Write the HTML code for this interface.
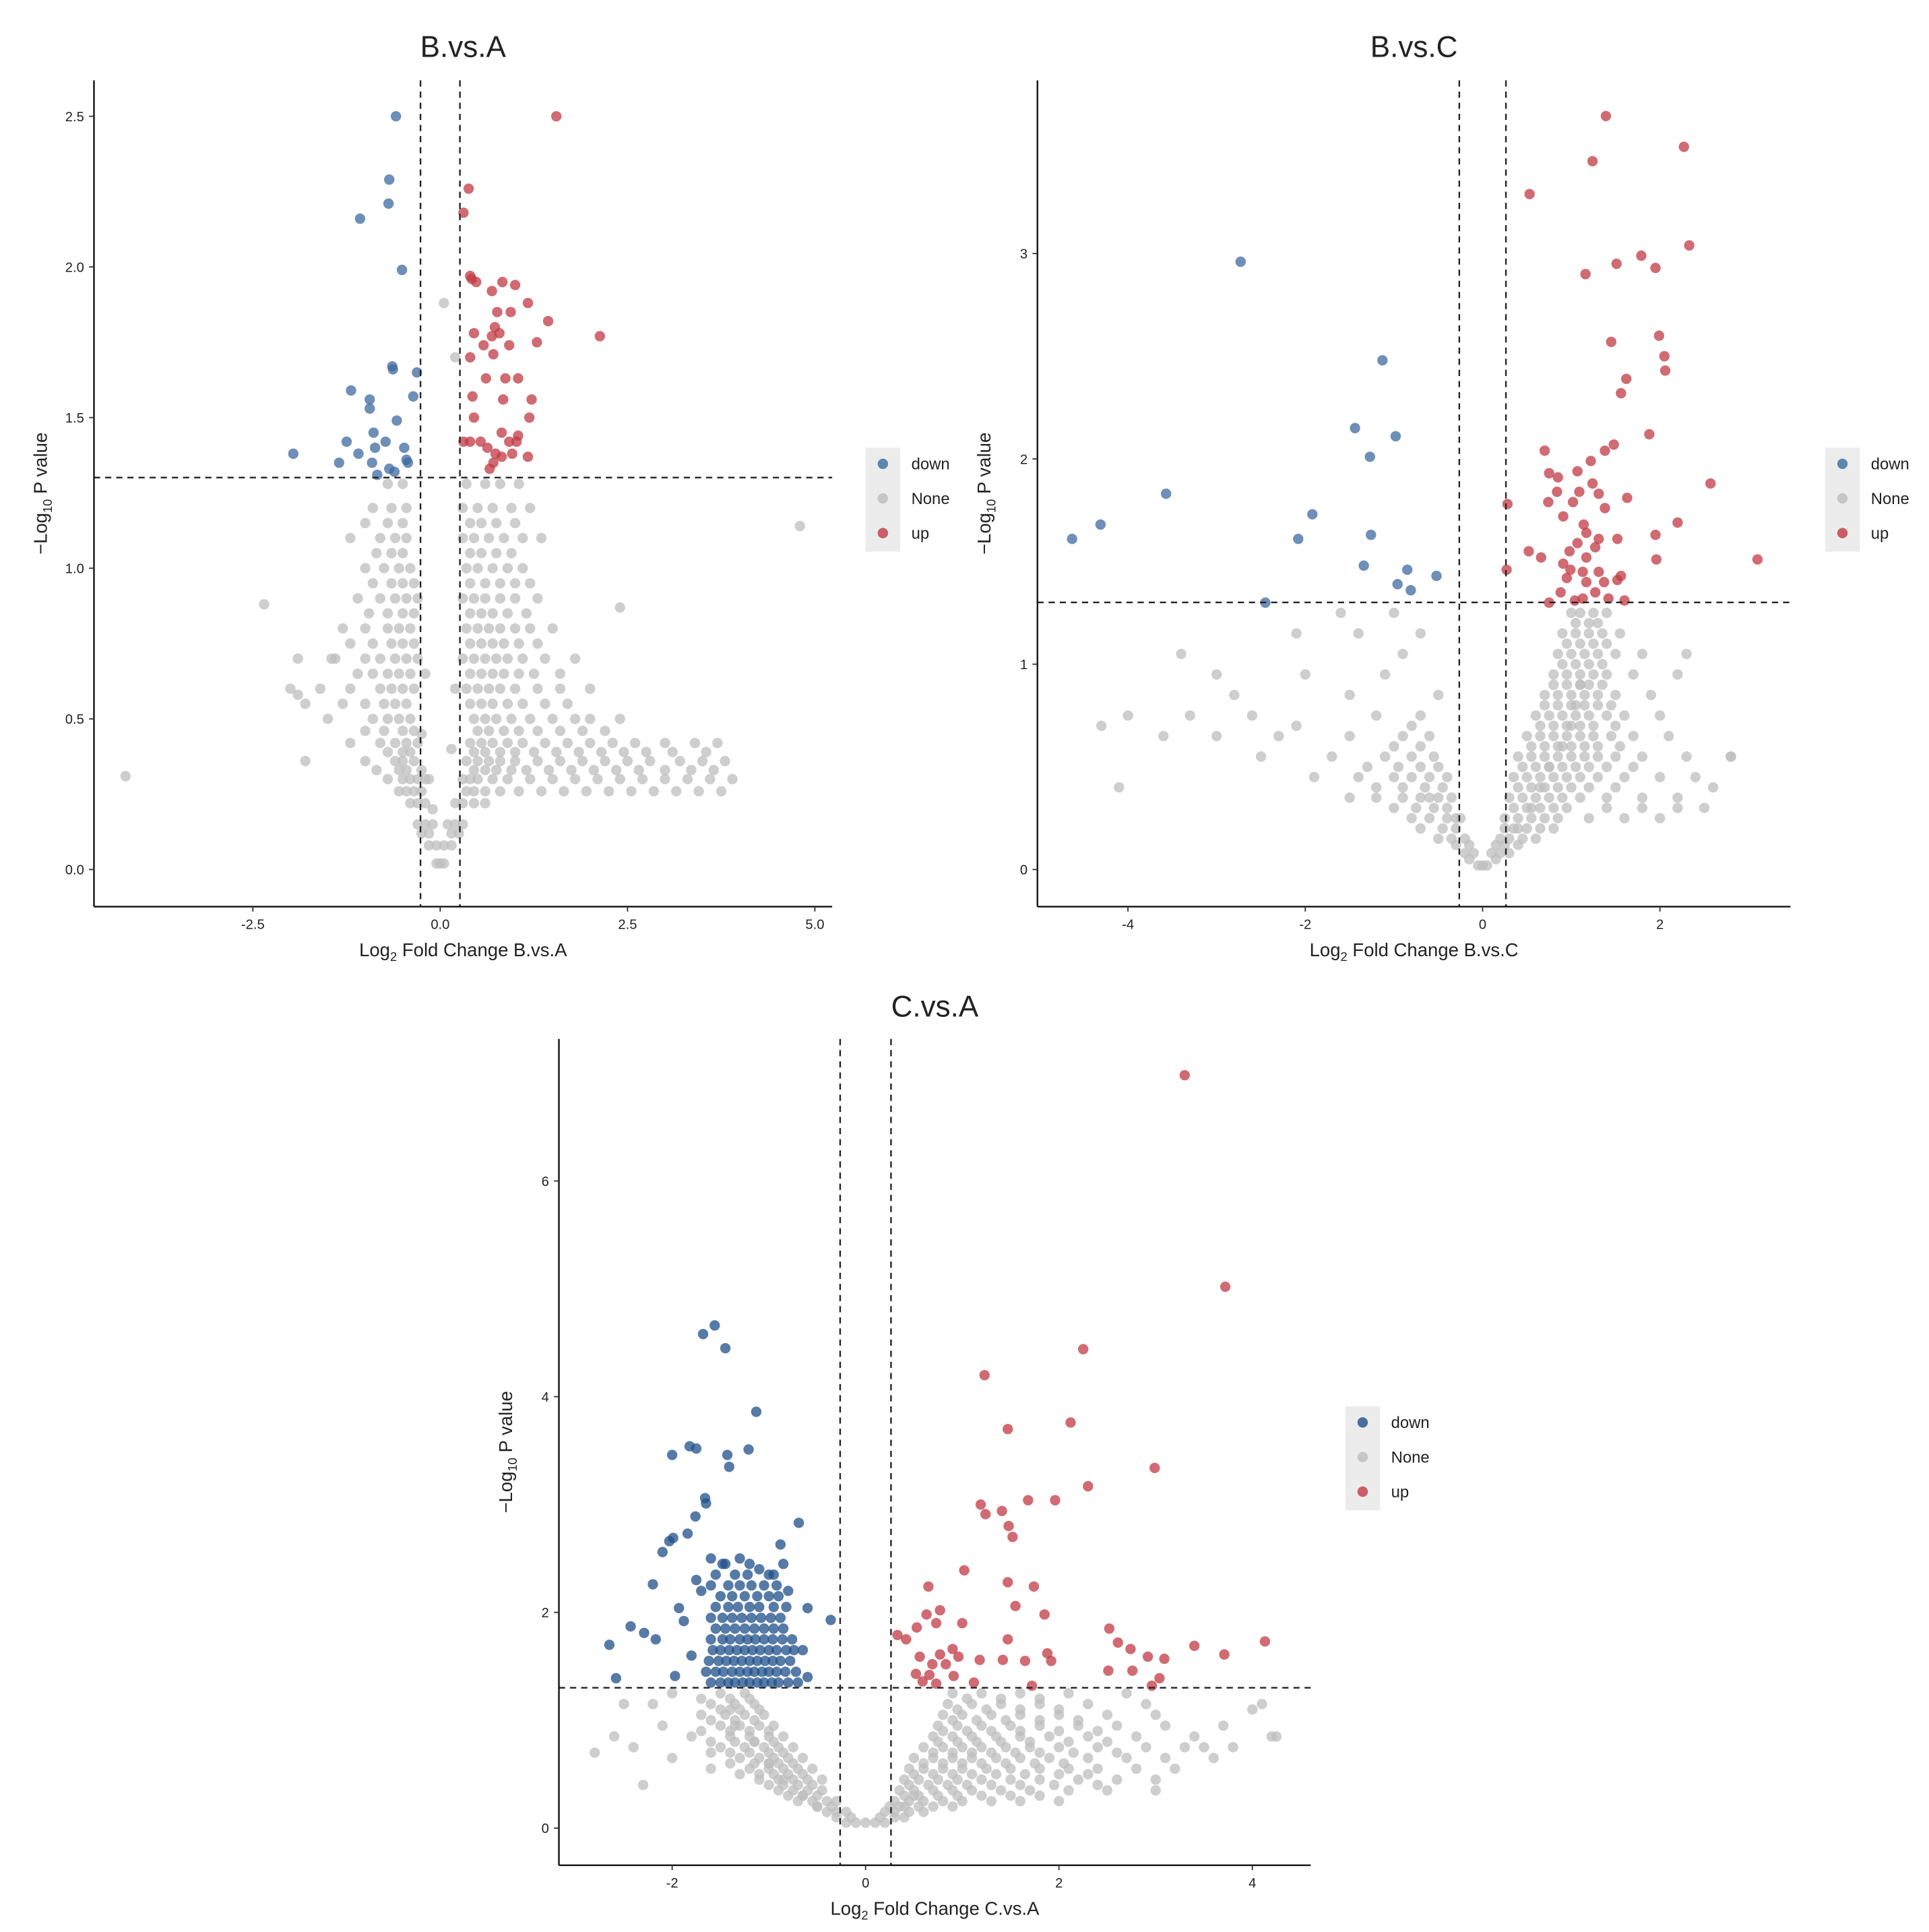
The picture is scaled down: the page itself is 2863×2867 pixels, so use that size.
<!DOCTYPE html>
<html><head><meta charset="utf-8"><style>
html,body{margin:0;padding:0;background:#fff}
svg{display:block}
text{font-family:"Liberation Sans",sans-serif;fill:#222}
</style></head><body>
<svg id="chart" width="2863" height="2867" viewBox="0 0 1560 1562" preserveAspectRatio="none" xmlns="http://www.w3.org/2000/svg"></svg>
<script>
// ===== Panel 1: B.vs.A =====
const p1Down = [[-0.59,2.5],[-0.68,2.29],[-0.69,2.21],[-1.07,2.16],[-0.51,1.99],[-0.64,1.67],[-0.63,1.66],[-0.31,1.65],[-0.36,1.57],[-1.19,1.59],[-0.94,1.56],[-0.94,1.53],[-0.58,1.49],[-0.89,1.45],[-0.73,1.42],[-1.25,1.42],[-0.87,1.40],[-1.96,1.38],[-0.48,1.40],[-1.09,1.38],[-0.45,1.36],[-1.35,1.35],[-0.91,1.35],[-0.68,1.33],[-0.43,1.35],[-0.84,1.31],[-0.61,1.32]];
const p1Up = [[1.55,2.5],[0.38,2.26],[0.31,2.18],[0.40,1.97],[0.48,1.95],[0.42,1.96],[0.83,1.95],[1.0,1.94],[0.69,1.92],[1.17,1.88],[0.94,1.85],[0.76,1.85],[1.44,1.82],[0.45,1.78],[0.73,1.80],[0.69,1.77],[0.79,1.78],[2.13,1.77],[1.29,1.75],[0.58,1.74],[0.92,1.74],[0.71,1.71],[0.40,1.70],[0.61,1.63],[0.87,1.63],[1.04,1.63],[0.43,1.57],[0.84,1.56],[1.22,1.56],[0.45,1.50],[1.19,1.50],[0.82,1.45],[1.04,1.44],[0.31,1.42],[0.40,1.42],[0.54,1.42],[0.92,1.42],[1.02,1.42],[0.63,1.40],[0.74,1.38],[0.82,1.37],[0.71,1.35],[1.17,1.37],[0.66,1.33],[0.96,1.38]];
const p1NoneRows = [
 [0.02,[-0.05,0,0.05]],
 [0.08,[-0.15,-0.05,0.05,0.15]],
 [0.15,[-0.3,-0.2,-0.1,0.1,0.2,0.3]],
 [0.22,[-0.4,-0.3,-0.2,0.2,0.3,0.45,0.6]],
 [0.30,[-0.7,-0.5,-0.4,-0.3,-0.2,0.3,0.4,0.5,0.7,0.9,1.2,1.5,1.8,2.1,2.4,2.7,3.0,3.3,3.6,3.9]],
 [0.36,[-1.0,-0.6,-0.5,-0.35,0.35,0.5,0.65,0.8,1.0,1.3,1.6,1.9,2.2,2.5,2.8,3.2,3.5,3.8]],
 [0.42,[-1.2,-0.8,-0.6,-0.45,-0.3,0.4,0.55,0.7,0.9,1.1,1.4,1.7,2.0,2.3,2.6,3.0,3.4,3.7]],
 [0.50,[-1.5,-0.9,-0.7,-0.55,-0.4,0.45,0.6,0.75,0.95,1.2,1.5,1.8,2.0,2.4]],
 [0.60,[-1.6,-1.2,-0.8,-0.65,-0.5,-0.35,0.35,0.5,0.65,0.8,1.0,1.3,1.6,2.0]],
 [0.70,[-1.4,-1.0,-0.8,-0.6,-0.45,-0.3,0.3,0.45,0.6,0.75,0.9,1.1,1.4,1.8]],
 [0.80,[-1.3,-1.0,-0.7,-0.55,-0.4,0.35,0.5,0.65,0.8,1.0,1.2,1.5]],
 [0.90,[-1.1,-0.8,-0.6,-0.45,-0.3,0.3,0.45,0.6,0.8,1.0,1.3]],
 [1.00,[-1.0,-0.75,-0.55,-0.4,0.35,0.5,0.7,0.9,1.1]],
 [1.10,[-1.2,-0.8,-0.6,-0.45,0.3,0.45,0.65,0.85,1.1,1.35]],
 [1.20,[-0.9,-0.65,-0.45,0.3,0.5,0.7,0.95,1.2]],
 [1.28,[-0.7,-0.5,0.35,0.6,0.8,1.05]]
];
const p1NoneRowsB = [
 [0.12,[-0.25,-0.15,0.15,0.25]],
 [0.26,[-0.55,-0.45,-0.35,-0.25,0.35,0.45,0.6,0.8,1.05,1.35,1.65,1.95,2.25,2.55,2.85,3.15,3.45,3.75]],
 [0.33,[-0.85,-0.55,-0.45,-0.25,0.45,0.6,0.75,0.95,1.15,1.45,1.75,2.05,2.35,2.65,3.0,3.35,3.65]],
 [0.39,[-0.7,-0.5,-0.4,0.45,0.6,0.8,1.0,1.25,1.55,1.85,2.15,2.45,2.75,3.1,3.55]],
 [0.46,[-1.0,-0.75,-0.5,-0.35,0.5,0.65,0.85,1.05,1.3,1.6,1.9,2.2]],
 [0.55,[-1.3,-1.0,-0.75,-0.6,-0.45,0.4,0.55,0.7,0.9,1.1,1.4,1.7]],
 [0.65,[-1.1,-0.9,-0.7,-0.55,-0.4,0.4,0.55,0.7,0.85,1.05,1.25,1.6]],
 [0.75,[-1.2,-0.9,-0.65,-0.5,-0.35,0.4,0.55,0.7,0.85,1.05,1.3]],
 [0.85,[-0.95,-0.7,-0.5,-0.35,0.4,0.55,0.7,0.9,1.15]],
 [0.95,[-0.9,-0.65,-0.5,-0.35,0.4,0.6,0.8,1.0,1.2]],
 [1.05,[-0.85,-0.65,-0.5,0.4,0.55,0.75,0.95]],
 [1.15,[-1.0,-0.7,-0.5,0.4,0.55,0.75,1.0]]
];
const p1NoneExtra = [[-4.2,0.31],[-2.35,0.88],[4.8,1.14],[-1.9,0.7],[-1.8,0.55],[-1.9,0.58],[2.4,0.87],[-1.8,0.36],[0.05,1.88],[0.2,1.7],[-2.0,0.6],[-1.45,0.7],[-0.25,0.45],[-0.2,0.65],[-0.15,0.3],[0.15,0.4],[0.2,0.6],[-0.1,0.2]];
const p1XTicks = [-2.5,0,2.5,5];
const p1XLabels = ["-2.5","0.0","2.5","5.0"];
const p1YTicks = [0,0.5,1,1.5,2,2.5];
const p1YLabels = ["0.0","0.5","1.0","1.5","2.0","2.5"];

// ===== Panel 2: B.vs.C =====
const p2Down = [[-2.73,2.96],[-1.13,2.48],[-1.44,2.15],[-0.98,2.11],[-1.27,2.01],[-3.57,1.83],[-1.92,1.73],[-4.31,1.68],[-1.26,1.63],[-4.63,1.61],[-2.08,1.61],[-1.34,1.48],[-0.85,1.46],[-0.52,1.43],[-0.96,1.39],[-0.81,1.36],[-2.45,1.30]];
const p2Up = [[1.39,3.67],[2.27,3.52],[1.24,3.45],[0.53,3.29],[2.33,3.04],[1.79,2.99],[1.51,2.95],[1.95,2.93],[1.16,2.90],[1.99,2.60],[1.45,2.57],[2.05,2.50],[2.06,2.43],[1.62,2.39],[1.56,2.32],[1.88,2.12],[1.48,2.07],[1.38,2.04],[0.70,2.04],[1.22,1.99],[2.57,1.88],[1.07,1.94],[0.75,1.93],[0.85,1.91],[1.24,1.88],[1.09,1.84],[1.31,1.83],[1.63,1.81],[0.84,1.84],[0.74,1.79],[1.02,1.79],[1.38,1.76],[0.28,1.78],[0.91,1.72],[1.14,1.68],[2.2,1.69],[1.17,1.64],[1.31,1.61],[1.52,1.61],[1.07,1.59],[1.95,1.63],[0.52,1.55],[0.66,1.52],[1.27,1.57],[0.98,1.55],[1.17,1.52],[0.91,1.49],[0.99,1.46],[1.13,1.45],[1.31,1.45],[1.56,1.43],[1.96,1.51],[3.1,1.51],[0.27,1.46],[0.95,1.42],[1.17,1.40],[1.37,1.40],[1.52,1.41],[1.27,1.35],[0.88,1.35],[1.13,1.32],[1.42,1.32],[1.6,1.31],[1.04,1.31],[0.75,1.30]];
const p2NoneRows = [
 [0.02,[-0.05,0,0.05]],
 [0.08,[-0.2,-0.1,0.1,0.2,0.3]],
 [0.15,[-0.5,-0.35,-0.2,0.2,0.3,0.45,0.6]],
 [0.25,[-0.8,-0.6,-0.4,-0.25,0.25,0.4,0.55,0.7,0.85,1.2,1.6,2.0]],
 [0.35,[-1.5,-1.2,-0.9,-0.7,-0.5,-0.35,0.3,0.45,0.6,0.75,0.9,1.1,1.4,1.8,2.2]],
 [0.45,[-1.9,-1.4,-1.0,-0.8,-0.6,-0.4,0.35,0.5,0.65,0.8,0.95,1.1,1.3,1.6,2.0,2.4]],
 [0.55,[-2.5,-1.7,-1.1,-0.8,-0.55,0.4,0.55,0.7,0.85,1.0,1.15,1.3,1.5,1.8,2.3,2.8]],
 [0.65,[-3.6,-3.0,-2.3,-1.5,-0.9,-0.6,0.5,0.65,0.8,0.95,1.1,1.25,1.45,1.7,2.1]],
 [0.75,[-4.0,-3.3,-2.6,-1.2,-0.7,0.6,0.75,0.9,1.05,1.2,1.4,1.6,2.0]],
 [0.85,[-2.8,-1.5,-0.5,0.7,0.85,1.0,1.15,1.3,1.5,1.9]],
 [0.95,[-3.0,-2.0,-1.1,0.8,0.95,1.1,1.25,1.4,1.7,2.2]],
 [1.05,[-3.4,-0.9,0.85,1.0,1.15,1.3,1.5,1.8,2.3]],
 [1.15,[-2.1,-1.4,-0.7,0.9,1.05,1.2,1.35,1.55]],
 [1.25,[-1.6,-1.0,1.0,1.1,1.25,1.4]]
];
const p2NoneRowsB = [
 [0.05,[-0.15,0.15]],
 [0.12,[-0.3,-0.15,0.15,0.25,0.4]],
 [0.20,[-0.7,-0.45,-0.3,0.25,0.35,0.5,0.65,0.8]],
 [0.30,[-1.0,-0.75,-0.55,-0.4,0.35,0.5,0.65,0.8,0.95,1.4,1.8]],
 [0.40,[-1.2,-0.9,-0.65,-0.45,0.4,0.55,0.7,0.85,1.0,1.2,1.5]],
 [0.50,[-1.3,-0.95,-0.7,-0.5,0.45,0.6,0.75,0.9,1.05,1.2,1.4,1.7]],
 [0.60,[-1.0,-0.7,0.55,0.7,0.85,1.0,1.15,1.3,1.55]],
 [0.70,[-0.8,0.65,0.8,0.95,1.1,1.25,1.5]],
 [0.80,[0.7,0.85,1.0,1.15,1.3,1.45]],
 [0.90,[0.8,0.95,1.1,1.2,1.35]],
 [1.00,[0.9,1.05,1.2,1.35]],
 [1.10,[0.95,1.1,1.25,1.4]],
 [1.20,[1.05,1.2,1.3]]
];
const p2NoneExtra = [[-4.1,0.4],[-4.3,0.7],[2.8,0.55],[2.6,0.4],[2.5,0.3],[2.2,0.3],[-2.1,0.7],[0.55,0.3],[0.65,0.4],[0.75,0.5],[0.9,0.6],[1.0,0.7],[1.05,0.8],[1.1,0.9],[0.4,0.2],[-0.3,0.25],[-0.6,0.35]];
const p2XTicks = [-4,-2,0,2];
const p2XLabels = ["-4","-2","0","2"];
const p2YTicks = [0,1,2,3];
const p2YLabels = ["0","1","2","3"];

// ===== Panel 3: C.vs.A =====
const p3Down = [[-1.56,4.66],[-1.68,4.58],[-1.45,4.45],[-1.13,3.86],[-1.82,3.54],[-1.21,3.51],[-1.75,3.52],[-2.0,3.46],[-1.43,3.46],[-1.41,3.35],[-1.66,3.06],[-1.65,3.01],[-1.76,2.89],[-0.69,2.83],[-1.84,2.73],[-2.03,2.66],[-1.99,2.69],[-0.88,2.63],[-2.10,2.56],[-2.20,2.26],[-2.43,1.87],[-2.29,1.81],[-2.65,1.70],[-2.17,1.75],[-2.58,1.39],[-1.97,1.41],[-0.36,1.93],[-0.6,2.04],[-1.93,2.04],[-1.88,1.92],[-1.75,2.3],[-1.6,2.5],[-1.45,2.45],[-1.3,2.5],[-1.1,2.4],[-0.95,2.35],[-0.8,2.2],[-1.7,2.2],[-1.8,1.6],[-0.65,1.65],[-0.6,1.4]];
const p3DownRows = [
 [1.35,[-1.6,-1.5,-1.42,-1.35,-1.27,-1.2,-1.12,-1.05,-0.97,-0.9,-0.8,-0.7]],
 [1.45,[-1.65,-1.55,-1.47,-1.38,-1.3,-1.22,-1.15,-1.07,-1.0,-0.92,-0.83,-0.72]],
 [1.55,[-1.62,-1.52,-1.44,-1.36,-1.28,-1.2,-1.12,-1.04,-0.96,-0.88,-0.78]],
 [1.65,[-1.58,-1.5,-1.41,-1.33,-1.25,-1.17,-1.09,-1.0,-0.92,-0.82,-0.74]],
 [1.75,[-1.6,-1.48,-1.4,-1.3,-1.22,-1.14,-1.05,-0.96,-0.86,-0.76]],
 [1.85,[-1.55,-1.45,-1.35,-1.25,-1.15,-1.05,-0.95,-0.85]],
 [1.95,[-1.6,-1.48,-1.38,-1.28,-1.18,-1.08,-0.98,-0.88]],
 [2.05,[-1.55,-1.42,-1.32,-1.2,-1.1,-0.95,-0.82]],
 [2.15,[-1.5,-1.38,-1.25,-1.12,-1.0,-0.9]],
 [2.25,[-1.6,-1.42,-1.3,-1.18,-1.05,-0.92]],
 [2.35,[-1.55,-1.35,-1.22,-1.0]],
 [2.45,[-1.48,-1.2,-0.85]]
];
const p3Up = [[3.30,6.98],[3.72,5.02],[2.25,4.44],[1.23,4.20],[2.12,3.76],[1.47,3.70],[2.99,3.34],[2.30,3.17],[1.68,3.04],[1.96,3.04],[1.19,3.00],[1.24,2.91],[1.41,2.94],[1.48,2.80],[1.52,2.70],[1.02,2.39],[0.65,2.24],[1.47,2.28],[1.74,2.24],[1.55,2.06],[1.85,1.98],[0.77,2.02],[0.63,1.98],[1.0,1.90],[0.53,1.86],[0.73,1.90],[0.33,1.79],[2.52,1.85],[1.47,1.75],[0.42,1.75],[2.61,1.72],[3.40,1.69],[4.13,1.73],[2.74,1.66],[2.92,1.59],[3.09,1.57],[3.71,1.61],[0.56,1.59],[0.77,1.61],[0.9,1.66],[0.96,1.59],[1.88,1.62],[1.18,1.56],[1.42,1.56],[1.65,1.55],[1.92,1.55],[0.69,1.52],[0.83,1.52],[2.51,1.46],[2.76,1.46],[0.52,1.43],[0.66,1.42],[0.91,1.41],[1.12,1.35],[1.72,1.32],[0.73,1.34],[2.96,1.32],[3.04,1.39],[0.59,1.36]];
const p3NoneRows = [
 [0.05,[-0.2,-0.1,0,0.1,0.2]],
 [0.15,[-0.4,-0.3,-0.2,0.2,0.3,0.45,0.6]],
 [0.25,[-0.7,-0.55,-0.4,-0.3,0.3,0.45,0.6,0.8,1.0,1.3,1.6,2.0]],
 [0.35,[-0.9,-0.75,-0.6,-0.45,0.35,0.5,0.7,0.9,1.1,1.4,1.7,2.1,2.5]],
 [0.45,[-1.1,-0.9,-0.75,-0.6,-0.45,0.4,0.55,0.75,0.95,1.2,1.5,1.8,2.2,2.6,3.0]],
 [0.55,[-1.6,-1.2,-1.0,-0.85,-0.7,-0.55,0.45,0.6,0.8,1.0,1.25,1.5,1.8,2.1,2.4,2.8,3.2]],
 [0.65,[-2.0,-1.3,-1.1,-0.95,-0.8,-0.65,0.5,0.7,0.9,1.1,1.35,1.6,1.9,2.3,2.7,3.1,3.6]],
 [0.75,[-2.4,-1.5,-1.25,-1.05,-0.9,-0.75,0.6,0.8,1.0,1.2,1.45,1.7,2.0,2.4,2.9,3.3,3.8]],
 [0.85,[-1.8,-1.4,-1.2,-1.0,-0.85,0.7,0.9,1.1,1.35,1.6,1.9,2.3,2.8,3.4,4.2]],
 [0.95,[-2.1,-1.5,-1.3,-1.1,-0.95,0.75,0.95,1.2,1.5,1.8,2.2,2.6,3.1,3.7]],
 [1.05,[-1.7,-1.45,-1.25,-1.05,0.8,1.0,1.3,1.6,2.0,2.5,3.0]],
 [1.15,[-2.2,-1.6,-1.35,-1.15,0.85,1.1,1.4,1.8,2.3,2.9,4.1]],
 [1.25,[-2.0,-1.5,-1.25,0.9,1.2,1.6,2.1,2.7]]
];
const p3NoneRowsB = [
 [0.10,[-0.3,-0.15,0.15,0.3,0.4]],
 [0.20,[-0.5,-0.35,0.25,0.4,0.55,0.7,0.9]],
 [0.30,[-0.8,-0.65,-0.5,0.4,0.55,0.75,0.95,1.2,1.5,1.8]],
 [0.40,[-1.0,-0.85,-0.7,-0.55,0.45,0.65,0.85,1.05,1.3,1.6,1.95,2.4]],
 [0.50,[-1.3,-1.1,-0.95,-0.8,-0.65,0.5,0.7,0.9,1.1,1.35,1.65,2.0,2.3]],
 [0.60,[-1.4,-1.15,-1.0,-0.9,-0.75,0.6,0.8,1.0,1.2,1.45,1.75,2.05]],
 [0.70,[-1.6,-1.4,-1.2,-1.0,-0.85,0.7,0.9,1.1,1.3,1.55,1.8,2.15,2.6]],
 [0.80,[-1.6,-1.35,-1.15,-0.95,0.75,0.95,1.15,1.4,1.7,2.1,2.5]],
 [0.90,[-1.7,-1.4,-1.2,-1.0,0.8,1.05,1.3,1.6,2.0,2.4]],
 [1.00,[-1.6,-1.35,-1.15,0.9,1.15,1.45,1.8,2.2]],
 [1.10,[-1.5,-1.3,-1.1,0.95,1.25,1.6,2.0]],
 [1.20,[-1.7,-1.4,-1.2,1.05,1.4,1.8]]
];
const p3NoneExtra = [[-2.8,0.7],[-2.6,0.85],[-2.3,0.4],[-2.5,1.15],[4.25,0.85],[4.0,1.1],[3.0,0.35],[3.5,0.75],[-0.5,0.2],[-0.65,0.3],[-0.85,0.45],[-1.0,0.6],[-1.15,0.8],[-1.35,0.95],[-1.4,1.1],[0.35,0.2],[0.5,0.3]];
const p3XTicks = [-2,0,2,4];
const p3XLabels = ["-2","0","2","4"];
const p3YTicks = [0,2,4,6];
const p3YLabels = ["0","2","4","6"];

const svg = document.getElementById('chart');
const NS = 'http://www.w3.org/2000/svg';
function mk(tag, attrs, parent){const e=document.createElementNS(NS,tag);for(const k in attrs)e.setAttribute(k,attrs[k]);(parent||svg).appendChild(e);return e;}

function flatten(rows, extra){const out=[];rows.forEach(r=>r[1].forEach(x=>out.push([x,r[0]])));return out.concat(extra);}

function drawPanel(cfg){
  const g = mk('g',{});
  
  
  const sx = v => cfg.px0 + (v - cfg.x0) * cfg.kx;
  const sy = v => cfg.py0 - (v - cfg.y0) * cfg.ky;
  const t = mk('text',{x:(cfg.L+cfg.R)/2,y:cfg.titleY,'text-anchor':'middle','font-size':24},g);
  t.textContent = cfg.title;
  
  
  const pts = mk('g',{},g);
  
  
  const groups = [[cfg.none,'#bdbdbd','none'],[cfg.down,cfg.downColor,'down'],[cfg.up,'#c23a44','up']];
  groups.forEach(([arr,col,nm])=>{
    arr.forEach(p=>{
      const c = mk('circle',{cx:sx(p[0]).toFixed(1),cy:sy(p[1]).toFixed(1),r:4.2,fill:col,'fill-opacity':0.75},pts);
      
      
    });
  });
  [-0.263,0.263].forEach(v=>{
    const l = mk('line',{x1:sx(v),x2:sx(v),y1:cfg.T,y2:cfg.B,stroke:'#222','stroke-width':1.3,'stroke-dasharray':'5,4'},g);
    
    
  });
  const hl = mk('line',{x1:cfg.L,x2:cfg.R,y1:sy(1.301),y2:sy(1.301),stroke:'#222','stroke-width':1.3,'stroke-dasharray':'5,4'},g);
  
  
  const xa = mk('line',{x1:cfg.L,x2:cfg.R,y1:cfg.B,y2:cfg.B,stroke:'#111','stroke-width':1.3},g);
  
  
  const ya = mk('line',{x1:cfg.L,x2:cfg.L,y1:cfg.T,y2:cfg.B,stroke:'#111','stroke-width':1.3},g);
  
  
  cfg.xt.forEach((v,i)=>{
    mk('line',{x1:sx(v),x2:sx(v),y1:cfg.B,y2:cfg.B+4,stroke:'#333','stroke-width':1},g);
    const tl = mk('text',{x:sx(v),y:cfg.B+18,'text-anchor':'middle','font-size':11,fill:'#444'},g);
    tl.textContent = cfg.xl[i];
    
    
  });
  cfg.yt.forEach((v,i)=>{
    mk('line',{x1:cfg.L-4,x2:cfg.L,y1:sy(v),y2:sy(v),stroke:'#333','stroke-width':1},g);
    const tl = mk('text',{x:cfg.L-8,y:sy(v)+4,'text-anchor':'end','font-size':11,fill:'#444'},g);
    tl.textContent = cfg.yl[i];
    
    
  });
  const xt = mk('text',{x:(cfg.L+cfg.R)/2,y:cfg.B+40,'text-anchor':'middle','font-size':15},g);
  xt.innerHTML = 'Log<tspan font-size="10" dy="4">2</tspan><tspan dy="-4"> Fold Change '+cfg.title+'</tspan>';
  
  
  const cy=(cfg.T+cfg.B)/2;
  const yt = mk('text',{x:cfg.L-38,y:cy,'text-anchor':'middle','font-size':15,transform:'rotate(-90 '+(cfg.L-38)+' '+cy+')'},g);
  yt.innerHTML = '\u2212Log<tspan font-size="10" dy="4">10</tspan><tspan dy="-4"> P value</tspan>';
  
  
  const lg = mk('g',{},g);
  
  
  mk('rect',{x:cfg.lx,y:cfg.ly,width:28,height:84,fill:'#ececec'},lg);
  [['down',cfg.downColor],['None','#bdbdbd'],['up','#c23a44']].forEach((e,i)=>{
    const y = cfg.ly+13+i*28;
    mk('circle',{cx:cfg.lx+14,cy:y,r:4.2,fill:e[1],'fill-opacity':0.8},lg);
    const lt = mk('text',{x:cfg.lx+37,y:y+4.5,'font-size':13},lg);
    lt.textContent = e[0];
    
    
  });
}

drawPanel({key:'b-vs-a',title:'B.vs.A',L:76,R:673,T:65,B:733,titleY:46,px0:356,x0:0,kx:60.6,py0:703,y0:0,ky:243.6,
  xt:p1XTicks,xl:p1XLabels,yt:p1YTicks,yl:p1YLabels,none:flatten(p1NoneRows.concat(p1NoneRowsB),p1NoneExtra),down:p1Down,up:p1Up,downColor:'#3d6aa0',lx:700,ly:362});
drawPanel({key:'b-vs-c',title:'B.vs.C',L:839,R:1448,T:65,B:733,titleY:46,px0:1199,x0:0,kx:71.7,py0:703,y0:0,ky:166,
  xt:p2XTicks,xl:p2XLabels,yt:p2YTicks,yl:p2YLabels,none:flatten(p2NoneRows.concat(p2NoneRowsB),p2NoneExtra),down:p2Down,up:p2Up,downColor:'#3d6aa0',lx:1476,ly:362});
drawPanel({key:'c-vs-a',title:'C.vs.A',L:452,R:1060,T:840,B:1508,titleY:822,px0:700,x0:0,kx:78.2,py0:1478,y0:0,ky:87.2,
  xt:p3XTicks,xl:p3XLabels,yt:p3YTicks,yl:p3YLabels,none:flatten(p3NoneRows.concat(p3NoneRowsB),p3NoneExtra),down:flatten(p3DownRows,p3Down),up:p3Up,downColor:'#1f4f8a',lx:1088,ly:1137});
</script>
</body></html>
